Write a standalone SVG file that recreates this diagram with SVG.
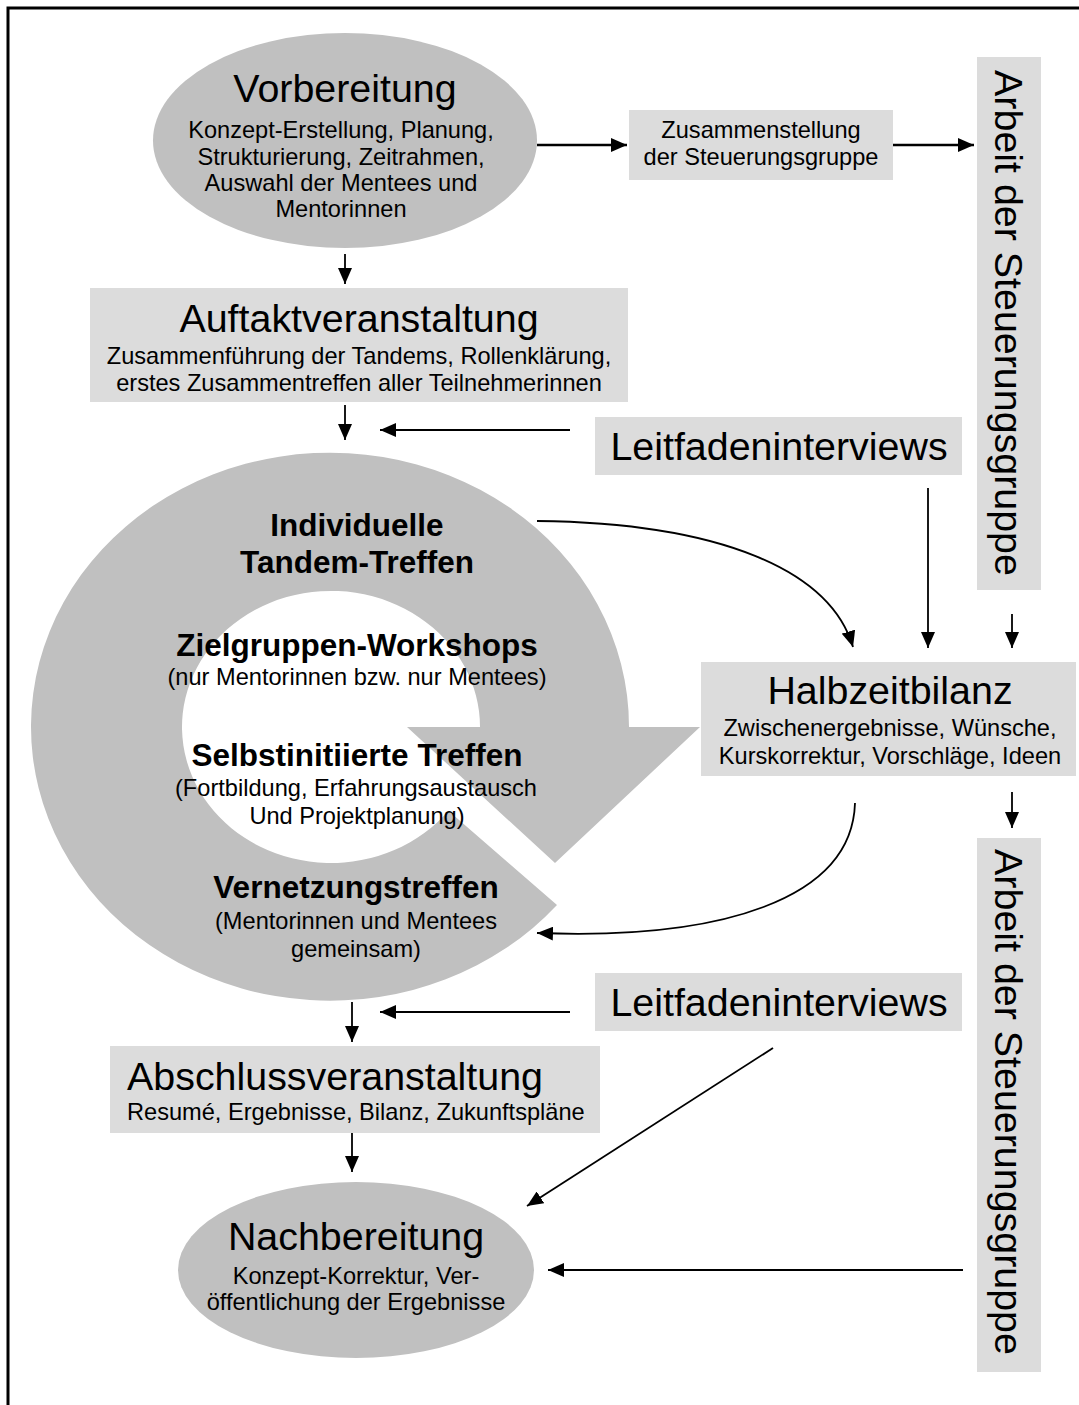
<svg xmlns="http://www.w3.org/2000/svg" width="1079" height="1405" viewBox="0 0 1079 1405">
<defs>
<marker id="ah" markerUnits="userSpaceOnUse" markerWidth="16" markerHeight="14" refX="16" refY="7" orient="auto"><path d="M0,0 L16,7 L0,14 z" fill="#000"/></marker>
<style>
text{font-family:"Liberation Sans",Arial,sans-serif;fill:#000;text-anchor:middle}
.t{font-size:39.4px}
.s{font-size:23.6px}
.b{font-size:31.5px;font-weight:bold}
.box{fill:#dcdcdc}
.ell{fill:#c0c0c0}
.c{fill:none;stroke:#000;stroke-width:1.8;marker-end:url(#ah)}
.c2{fill:none;stroke:#000;stroke-width:2.6;marker-end:url(#ah)}
</style>
</defs>
<rect width="1079" height="1405" fill="#fff"/>
<path d="M8,1405 V8 H1079" fill="none" stroke="#000" stroke-width="3"/>

<g id="ring">
<path class="ell" d="M557,905 A299,274 0 1 1 629,727 L700,727 L555,863 L407,727 L480,727 A149,136 0 1 0 448.4,810.7 Z"/>
<text class="b" x="357" y="536">Individuelle</text>
<text class="b" x="357" y="573">Tandem-Treffen</text>
<text class="b" x="357" y="656">Zielgruppen-Workshops</text>
<text class="s" x="357" y="685">(nur Mentorinnen bzw. nur Mentees)</text>
<text class="b" x="357" y="766">Selbstinitiierte Treffen</text>
<text class="s" x="356" y="796">(Fortbildung, Erfahrungsaustausch</text>
<text class="s" x="357" y="824">Und Projektplanung)</text>
<text class="b" x="356" y="898">Vernetzungstreffen</text>
<text class="s" x="356" y="929">(Mentorinnen und Mentees</text>
<text class="s" x="356" y="957">gemeinsam)</text>
</g>

<g id="vorbereitung">
<ellipse class="ell" cx="345" cy="140.5" rx="192" ry="107.5"/>
<text class="t" x="345" y="102">Vorbereitung</text>
<text class="s" x="341" y="138">Konzept-Erstellung, Planung,</text>
<text class="s" x="341" y="165">Strukturierung, Zeitrahmen,</text>
<text class="s" x="341" y="191">Auswahl der Mentees und</text>
<text class="s" x="341" y="217">Mentorinnen</text>
</g>

<g id="zusammenstellung">
<rect class="box" x="629" y="110" width="264" height="70"/>
<text class="s" x="761" y="138">Zusammenstellung</text>
<text class="s" x="761" y="165">der Steuerungsgruppe</text>
</g>

<g id="arbeit1">
<rect class="box" x="977" y="57" width="64" height="533"/>
<text class="t" transform="translate(995,323) rotate(90)" x="0" y="0">Arbeit der Steuerungsgruppe</text>
</g>

<g id="auftakt">
<rect class="box" x="90" y="288" width="538" height="114"/>
<text class="t" x="359" y="332">Auftaktveranstaltung</text>
<text class="s" x="359" y="364">Zusammenführung der Tandems, Rollenklärung,</text>
<text class="s" x="359" y="391">erstes Zusammentreffen aller Teilnehmerinnen</text>
</g>

<g id="leitfaden1">
<rect class="box" x="595" y="417" width="367" height="58"/>
<text class="t" x="779" y="460">Leitfadeninterviews</text>
</g>

<g id="halbzeit">
<rect class="box" x="701" y="662" width="375" height="114"/>
<text class="t" x="890" y="704">Halbzeitbilanz</text>
<text class="s" x="890" y="736">Zwischenergebnisse, Wünsche,</text>
<text class="s" x="890" y="764">Kurskorrektur, Vorschläge, Ideen</text>
</g>

<g id="arbeit2">
<rect class="box" x="977" y="838" width="64" height="534"/>
<text class="t" transform="translate(995,1102) rotate(90)" x="0" y="0">Arbeit der Steuerungsgruppe</text>
</g>

<g id="leitfaden2">
<rect class="box" x="595" y="973" width="367" height="58"/>
<text class="t" x="779" y="1016">Leitfadeninterviews</text>
</g>

<g id="abschluss">
<rect class="box" x="110" y="1046" width="490" height="87"/>
<text class="t" x="127" y="1090" style="text-anchor:start">Abschlussveranstaltung</text>
<text class="s" x="127" y="1120" style="text-anchor:start">Resumé, Ergebnisse, Bilanz, Zukunftspläne</text>
</g>

<g id="nachbereitung">
<ellipse class="ell" cx="356" cy="1270" rx="178" ry="88"/>
<text class="t" x="356" y="1250">Nachbereitung</text>
<text class="s" x="356" y="1284">Konzept-Korrektur, Ver-</text>
<text class="s" x="356" y="1310">öffentlichung der Ergebnisse</text>
</g>

<g id="connectors">
<path class="c2" d="M537,145 H627"/>
<path class="c2" d="M893,145 H974"/>
<path class="c" d="M345,254 V284"/>
<path class="c" d="M345,405 V440"/>
<path class="c" d="M570,430 H380"/>
<path class="c" d="M537,521 C720,523 830,570 853,647"/>
<path class="c" d="M928,488 V648"/>
<path class="c" d="M1012,614 V648"/>
<path class="c" d="M1012,792 V828"/>
<path class="c" d="M855,803 C852,900 720,940 537,933"/>
<path class="c" d="M570,1012 H380"/>
<path class="c" d="M352,1002 V1042"/>
<path class="c" d="M352,1133 V1172"/>
<path class="c" d="M773,1048 L527,1206"/>
<path class="c" d="M963,1270 H548"/>
</g>
</svg>
